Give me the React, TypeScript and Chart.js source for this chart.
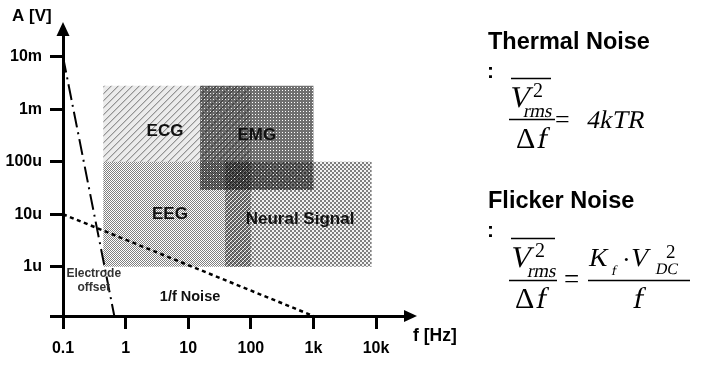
import { useEffect, useRef } from 'react';
import { Chart, registerables } from 'chart.js';

Chart.register(...registerables);

// ---- axis ticks ----
const xTickValues = [0.1, 1, 10, 100, 1000, 10000];
const xTickLabels = ['0.1', '1', '10', '100', '1k', '10k'];
const yTickValues = [1e-6, 1e-5, 1e-4, 1e-3, 1e-2];
const yTickLabels = ['1u', '10u', '100u', '1m', '10m'];
const xMin = 0.1;
const xMax = 29000;
const yMin = 1.15e-7;
const yMax = 0.026;

// ---- signal regions (frequency band x amplitude band) ----
const regionNames = ['ECG', 'EMG', 'EEG', 'Neural Signal'];
const regionFreqFrom = [0.44, 15.5, 0.44, 38.7];
const regionFreqTo = [100, 1000, 100, 8500];
const regionAmpFrom = [1e-4, 2.9e-5, 1e-6, 1e-6];
const regionAmpTo = [2.8e-3, 2.8e-3, 1e-4, 1e-4];
const regionLabelFreq = [4.26, 125, 5.1, 611];
const regionLabelAmp = [3.85e-4, 3.15e-4, 1e-5, 8.1e-6];

// ---- noise lines ----
const electrodeFreq = [0.1, 0.66];
const electrodeAmp = [1e-2, yMin];
const flickerFreq = [0.1, 1000];
const flickerAmp = [1e-5, yMin];

// ---- other annotations ----
const noteTexts = ['Electrode', 'offset', '1/f Noise'];
const noteFreq = [0.31, 0.31, 10.7];
const noteAmp = [7.4e-7, 3.9e-7, 2.65e-7];

function makePattern(size: number, fn: (x: number, y: number) => number) {
  const c = document.createElement('canvas');
  c.width = size;
  c.height = size;
  const g = c.getContext('2d')!;
  const img = g.createImageData(size, size);
  for (let y = 0; y < size; y++) {
    for (let x = 0; x < size; x++) {
      const i = (y * size + x) * 4;
      img.data[i] = 0;
      img.data[i + 1] = 0;
      img.data[i + 2] = 0;
      img.data[i + 3] = Math.round(fn(x, y) * 255);
    }
  }
  g.putImageData(img, 0, 0);
  return g.createPattern(c, 'repeat')!;
}

const SANS = '"Liberation Sans", Arial, sans-serif';
const SERIF = '"Liberation Serif", "Times New Roman", serif';

function txt(ctx: CanvasRenderingContext2D, s: string, x: number, y: number, font: string, align: CanvasTextAlign = 'left', color = '#000') {
  ctx.font = font;
  ctx.textAlign = align;
  ctx.textBaseline = 'alphabetic';
  ctx.fillStyle = color;
  ctx.fillText(s, x, y);
}

// slanted serif text (math italic)
function itxt(ctx: CanvasRenderingContext2D, s: string, x: number, y: number, size: number) {
  ctx.save();
  ctx.translate(x, y);
  ctx.transform(1, 0, -0.2, 1, 0, 0);
  ctx.font = `${size}px ${SERIF}`;
  ctx.textAlign = 'left';
  ctx.textBaseline = 'alphabetic';
  ctx.fillStyle = '#000';
  ctx.fillText(s, 0, 0);
  ctx.restore();
}

function hline(ctx: CanvasRenderingContext2D, x0: number, x1: number, y: number, w = 1.5) {
  ctx.fillStyle = '#000';
  ctx.fillRect(x0, y - w / 2, x1 - x0, w);
}

const overlay = {
  id: 'overlay',
  afterDatasetsDraw(chart: any) {
    const ctx: CanvasRenderingContext2D = chart.ctx;
    const xs = chart.scales.x;
    const ys = chart.scales.y;
    ctx.save();
    regionNames.forEach((n, i) => {
      ctx.font = `bold 17px ${SANS}`;
      ctx.textAlign = 'center';
      ctx.textBaseline = 'middle';
      ctx.fillStyle = '#111';
      ctx.fillText(n, xs.getPixelForValue(regionLabelFreq[i]), ys.getPixelForValue(regionLabelAmp[i]));
    });
    noteTexts.forEach((n, i) => {
      ctx.font = i < 2 ? `bold 12px ${SANS}` : `bold 14.5px ${SANS}`;
      ctx.textAlign = 'center';
      ctx.textBaseline = 'middle';
      ctx.fillStyle = i < 2 ? '#333' : '#111';
      ctx.fillText(n, xs.getPixelForValue(noteFreq[i]), ys.getPixelForValue(noteAmp[i]));
    });
    ctx.restore();
  },
  afterDraw(chart: any) {
    const ctx: CanvasRenderingContext2D = chart.ctx;
    const a = chart.chartArea;
    ctx.save();
    // arrows
    ctx.fillStyle = '#000';
    ctx.beginPath();
    ctx.moveTo(a.left, a.top - 13);
    ctx.lineTo(a.left - 6.5, a.top + 1);
    ctx.lineTo(a.left + 6.5, a.top + 1);
    ctx.closePath();
    ctx.fill();
    ctx.beginPath();
    ctx.moveTo(a.right + 12, a.bottom);
    ctx.lineTo(a.right - 1, a.bottom - 6);
    ctx.lineTo(a.right - 1, a.bottom + 6);
    ctx.closePath();
    ctx.fill();
    // axis titles
    txt(ctx, 'A [V]', 12, 21, `bold 17px ${SANS}`);
    txt(ctx, 'f [Hz]', 413, 341, `bold 17.5px ${SANS}`);

    // Thermal noise
    txt(ctx, 'Thermal Noise', 488, 49, `bold 23.5px ${SANS}`);
    txt(ctx, ':', 487, 78, `bold 21px ${SANS}`);
    hline(ctx, 511, 551, 78.5);
    itxt(ctx, 'V', 508, 107, 30);
    txt(ctx, '2', 533, 97, `20px ${SERIF}`);
    itxt(ctx, 'rms', 523, 117, 19);
    hline(ctx, 509, 555, 119.5);
    txt(ctx, '\u0394', 516, 148, `30px ${SERIF}`);
    itxt(ctx, 'f', 536, 148, 30);
    txt(ctx, '=', 555, 127.5, `26px ${SERIF}`);
    itxt(ctx, '4kTR', 586, 127.5, 25.5);

    // Flicker noise
    txt(ctx, 'Flicker Noise', 488, 208, `bold 23.5px ${SANS}`);
    txt(ctx, ':', 487, 237, `bold 21px ${SANS}`);
    hline(ctx, 511, 555, 238.5);
    itxt(ctx, 'V', 509, 267, 30);
    txt(ctx, '2', 535, 257, `20px ${SERIF}`);
    itxt(ctx, 'rms', 527, 276.5, 19);
    hline(ctx, 509, 557, 280.5);
    txt(ctx, '\u0394', 515, 308, `30px ${SERIF}`);
    itxt(ctx, 'f', 535, 308, 30);
    txt(ctx, '=', 564, 288, `27px ${SERIF}`);
    itxt(ctx, 'K', 588, 266, 26);
    itxt(ctx, 'f', 611, 275, 14);
    txt(ctx, '\u00b7', 622, 268, `26px ${SERIF}`);
    itxt(ctx, 'V', 629, 266, 26);
    txt(ctx, '2', 666, 258, `19px ${SERIF}`);
    itxt(ctx, 'DC', 655, 273.5, 16);
    hline(ctx, 588, 690, 280.5);
    itxt(ctx, 'f', 632, 308, 30);
    ctx.restore();
  },
};

function labelFor(values: number[], labels: string[], v: number) {
  const i = values.findIndex((t) => Math.abs(Math.log10(t) - Math.log10(v)) < 1e-6);
  return i >= 0 ? labels[i] : '';
}

export default function App() {
  const ref = useRef<HTMLCanvasElement | null>(null);
  useEffect(() => {
    document.body.style.margin = '0';
    const ecg = makePattern(7, (x, y) => ((x + y) % 7 === 0 ? 0.42 : (x + y) % 7 === 1 ? 0.22 : 0.08));
    const emg = makePattern(3, (x, y) => (x % 3 === 0 && y % 3 === 0 ? 0 : 0.56));
    const eeg = makePattern(2, (x, y) => ((x + y) % 2 === 0 ? 0.5 : 0));
    const neural = makePattern(4, (x, y) => (((x >> 1) + (y >> 1)) % 2 === 0 ? 0.5 : 0.05));
    const patterns = [ecg, emg, eeg, neural];

    const regionSets = regionNames.map((n, i) => ({
      label: n,
      data: [
        { x: regionFreqFrom[i], y: regionAmpFrom[i] },
        { x: regionFreqTo[i], y: regionAmpFrom[i] },
        { x: regionFreqTo[i], y: regionAmpTo[i] },
        { x: regionFreqFrom[i], y: regionAmpTo[i] },
        { x: regionFreqFrom[i], y: regionAmpFrom[i] },
      ],
      showLine: true,
      fill: 'shape',
      backgroundColor: patterns[i],
      borderColor: 'rgba(0,0,0,0)',
      borderWidth: 0,
      pointRadius: 0,
      order: 2 + i,
    }));

    const chart = new Chart(ref.current!, {
      type: 'scatter',
      data: {
        datasets: [
          {
            label: 'Electrode offset',
            data: electrodeFreq.map((f, i) => ({ x: f, y: electrodeAmp[i] })),
            showLine: true,
            borderColor: '#000',
            borderWidth: 2,
            borderDash: [16, 5, 2, 5],
            pointRadius: 0,
            fill: false,
            order: 0,
          },
          {
            label: '1/f Noise',
            data: flickerFreq.map((f, i) => ({ x: f, y: flickerAmp[i] })),
            showLine: true,
            borderColor: '#000',
            borderWidth: 2.5,
            borderDash: [4, 3.5],
            pointRadius: 0,
            fill: false,
            order: 1,
          },
          ...regionSets,
        ] as any,
      },
      options: {
        animation: false,
        responsive: false,
        devicePixelRatio: 1,
        layout: { padding: { top: 35, right: 302, left: 0, bottom: 0 } },
        plugins: { legend: { display: false }, tooltip: { enabled: false } },
        scales: {
          x: {
            type: 'logarithmic',
            min: xMin,
            max: xMax,
            afterBuildTicks: (s: any) => {
              s.ticks = xTickValues.map((v) => ({ value: v }));
            },
            afterFit: (s: any) => {
              s.height = 56;
            },
            ticks: {
              autoSkip: false,
              maxRotation: 0,
              padding: 10,
              color: '#000',
              font: { family: SANS, size: 16, weight: 'bold' },
              callback: (v: any) => labelFor(xTickValues, xTickLabels, Number(v)),
            },
            grid: { drawOnChartArea: false, drawTicks: true, tickLength: 13, tickWidth: 3, tickColor: '#000', color: '#000' },
            border: { display: true, width: 3, color: '#000' },
          },
          y: {
            type: 'logarithmic',
            min: yMin,
            max: yMax,
            afterBuildTicks: (s: any) => {
              s.ticks = [yMin, ...yTickValues].map((v) => ({ value: v }));
            },
            afterFit: (s: any) => {
              s.width = 63;
            },
            ticks: {
              autoSkip: false,
              padding: 8,
              color: '#000',
              font: { family: SANS, size: 16, weight: 'bold' },
              callback: (v: any) => labelFor(yTickValues, yTickLabels, Number(v)),
            },
            grid: { drawOnChartArea: false, drawTicks: true, tickLength: 13, tickWidth: 3, tickColor: '#000', color: '#000' },
            border: { display: true, width: 3, color: '#000' },
          },
        },
      } as any,
      plugins: [overlay],
    });
    return () => chart.destroy();
  }, []);

  return (
    <div style={{ position: 'fixed', left: 0, top: 0, width: 707, height: 372, background: '#fff' }}>
      <canvas ref={ref} width={707} height={372} style={{ display: 'block', width: 707, height: 372 }} />
    </div>
  );
}
